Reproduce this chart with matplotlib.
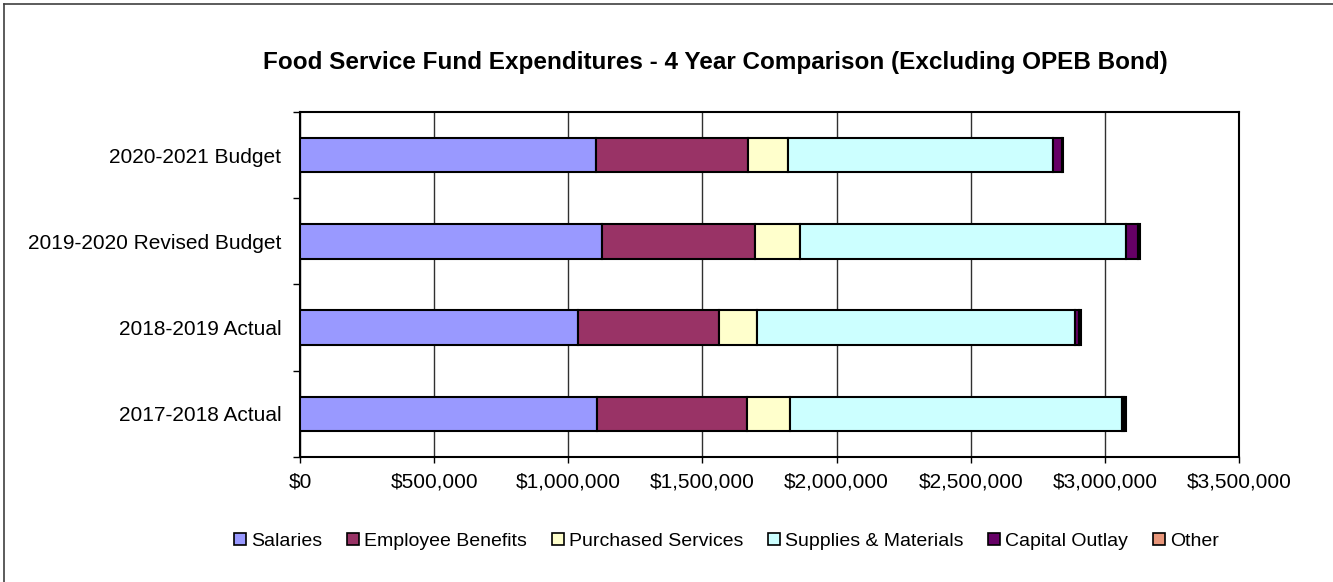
import matplotlib.pyplot as plt
import numpy as np
from matplotlib.ticker import FuncFormatter, MultipleLocator, FixedLocator
from matplotlib.lines import Line2D
from matplotlib.patches import Patch

plt.rcParams['font.family'] = ['Liberation Sans', 'DejaVu Sans']

years = ['2017-2018 Actual', '2018-2019 Actual', '2019-2020 Revised Budget', '2020-2021 Budget']
categories = ['Salaries', 'Employee Benefits', 'Purchased Services',
              'Supplies & Materials', 'Capital Outlay', 'Other']

salaries = [1105000, 1035000, 1124000, 1102000]
benefits = [562000, 525000, 570000, 566000]
purchased = [161000, 145000, 168000, 149000]
supplies = [1235000, 1184000, 1218000, 990000]
capital = [8000, 15000, 42000, 32000]
other = [7000, 7000, 10000, 6000]

colors = ['#9999FF', '#993366', '#FFFFCC', '#CCFFFF', '#660066', '#E8967A']

fig = plt.figure(figsize=(13.33, 5.82), dpi=100)
ax = fig.add_axes([0.2251, 0.2148, 0.9295 - 0.2251, 0.8076 - 0.2148])

y = np.arange(len(years))
left = np.zeros(len(years))
for vals, c in zip([salaries, benefits, purchased, supplies, capital, other], colors):
    ax.barh(y, vals, left=left, height=0.4, color=c, edgecolor='black', linewidth=1.5, zorder=3)
    left = left + np.array(vals)

ax.set_xlim(0, 3500000)
ax.set_ylim(-0.5, len(years) - 0.5)
ax.xaxis.set_major_locator(MultipleLocator(500000))
ax.xaxis.set_major_formatter(FuncFormatter(lambda v, p: '${:,.0f}'.format(v)))
ax.set_yticks(y)
ax.set_yticklabels(years)
ax.yaxis.set_minor_locator(FixedLocator(np.arange(-0.5, len(years), 1)))
ax.tick_params(axis='y', which='major', length=0, pad=13.5, labelsize=15)
ax.tick_params(axis='y', which='minor', length=5, width=1, direction='out')
ax.tick_params(axis='x', length=4, width=1, direction='out', pad=7, labelsize=15)
ax.grid(axis='x', color='#303030', linewidth=1, zorder=0)
for s in ax.spines.values():
    s.set_color('black')
    s.set_linewidth(1.5)

fig.text(0.537, 0.892, 'Food Service Fund Expenditures - 4 Year Comparison (Excluding OPEB Bond)',
         ha='center', va='center', fontsize=17.5, fontweight='bold')

handles = [Patch(facecolor=c, edgecolor='black', linewidth=1.2) for c in colors]
fig.legend(handles, categories, loc='center', bbox_to_anchor=(0.545, 0.07), ncol=6,
           frameon=False, fontsize=14, handlelength=0.6, handleheight=0.6,
           handletextpad=0.25, columnspacing=1.3)

# outer chart border (top and left edges visible)
fig.add_artist(Line2D([0.003, 0.003], [0, 0.993], transform=fig.transFigure, color='#404040', lw=1.2))
fig.add_artist(Line2D([0.003, 1], [0.993, 0.993], transform=fig.transFigure, color='#404040', lw=1.2))

fig.savefig('out.png', dpi=100)
